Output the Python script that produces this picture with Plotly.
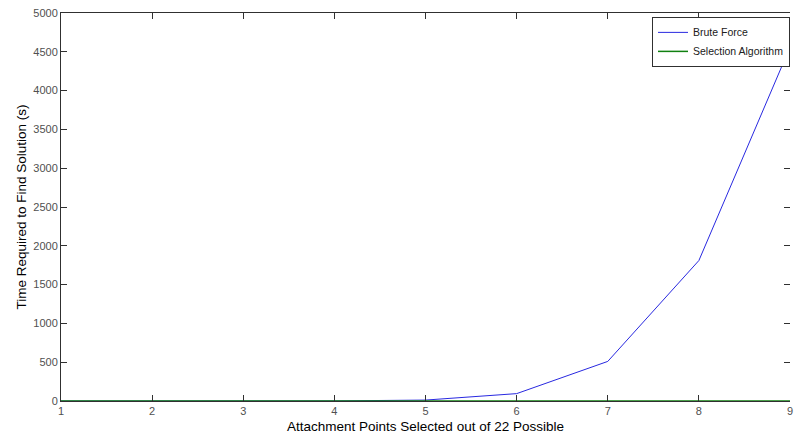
import plotly.graph_objects as go

# Number of attachment points selected (out of 22 possible)
points = [1, 2, 3, 4, 5, 6, 7, 8, 9]

# Run time in seconds for each method
brute_force = [0, 0, 0.1, 1, 12, 95, 510, 1810, 4560]
selection_algorithm = [0.5, 0.5, 0.5, 0.5, 0.5, 0.5, 0.5, 0.5, 0.5]

y_ticks = [0, 500, 1000, 1500, 2000, 2500, 3000, 3500, 4000, 4500, 5000]

FONT = "Liberation Sans, Arial, sans-serif"

fig = go.Figure()
fig.add_trace(go.Scatter(
    x=points, y=brute_force, mode="lines", name="Brute Force",
    line=dict(color="#2828e0", width=1),
))
# drawn on the overlaid right-hand axis (same range) so it sits on top of the blue curve
fig.add_trace(go.Scatter(
    x=points, y=selection_algorithm, mode="lines", name="Selection Algorithm",
    line=dict(color="#108010", width=1.5), yaxis="y2",
))

tick_style = dict(
    ticks="inside", ticklen=6, tickcolor="#303030", tickwidth=1,
    showgrid=False, zeroline=False, ticklabeloverflow="allow",
    tickfont=dict(family=FONT, size=11, color="#505050"),
)

fig.update_layout(
    width=794, height=435,
    margin=dict(l=61, r=1, t=13, b=34),
    paper_bgcolor="white", plot_bgcolor="white",
    showlegend=True,
    legend=dict(
        x=1.0, y=0.99, xanchor="right", yanchor="top",
        bgcolor="white", bordercolor="#303030", borderwidth=1,
        font=dict(family=FONT, size=10.5, color="#202020"),
        tracegroupgap=0, itemwidth=30,
    ),
    xaxis=dict(
        range=[1, 9], tickvals=points, ticklabelstandoff=0,
        showline=True, linecolor="#303030", linewidth=1, mirror="ticks",
        automargin=True,
        title=dict(text="Attachment Points Selected out of 22 Possible",
                   font=dict(family=FONT, size=13.5, color="black"),
                   standoff=5),
        **tick_style,
    ),
    yaxis=dict(
        range=[0, 5000], tickvals=y_ticks,
        showline=True, linecolor="#303030", linewidth=1, mirror=False,
        automargin=True,
        title=dict(text="Time Required to Find Solution (s)",
                   font=dict(family=FONT, size=13.5, color="black"),
                   standoff=3),
        **tick_style,
    ),
    # tick marks along the right-hand edge of the axes box
    yaxis2=dict(
        overlaying="y", side="right", anchor="x",
        range=[0, 5000], tickvals=y_ticks, showticklabels=False,
        showline=False, automargin=False,
        **tick_style,
    ),
)

fig.write_html("out.html")
